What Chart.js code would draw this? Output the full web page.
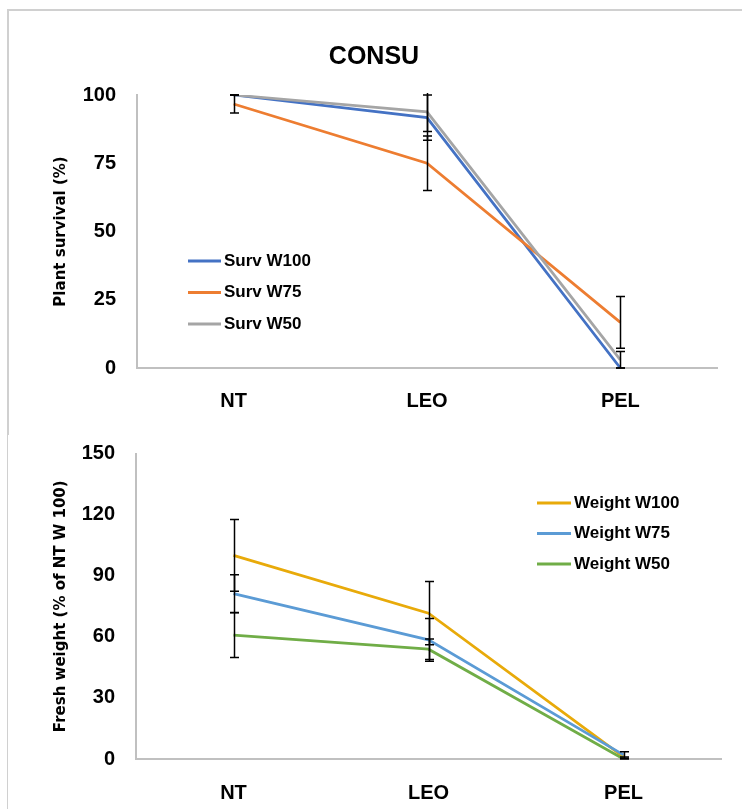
<!DOCTYPE html>
<html><head><meta charset="utf-8">
<script src="https://cdn.jsdelivr.net/npm/chart.js@4"></script>
<style>
html,body{margin:0;padding:0;background:#fff;}
#wrap{position:relative;width:742px;height:809px;overflow:hidden;background:#fff}
canvas{position:absolute;left:0}
#c1{top:0}
#c2{top:440px}
.fr{position:absolute;background:#d0d0d0}
</style></head><body>
<div id="wrap">
<div class="fr" style="left:7px;top:9px;width:735px;height:2px"></div>
<div class="fr" style="left:7px;top:9px;width:2px;height:426px"></div>
<div class="fr" style="left:7px;top:435px;width:1px;height:374px"></div>
<canvas id="c1" width="742" height="440"></canvas>
<canvas id="c2" width="742" height="369"></canvas>
</div>
<script>
const categories = ['NT', 'LEO', 'PEL'];

const survTitle = 'CONSU';
const survAxisTitle = 'Plant survival (%)';
const survLabels = ['Surv W100', 'Surv W75', 'Surv W50'];
const survW100 = [100, 91.7, 0];
const survW75 = [96.7, 75, 16.7];
const survW50 = [100, 93.8, 3];
const survErrW100 = [0, 8.3, 0];
const survErrW75 = [3.3, 10, 9.5];
const survErrW50 = [0, 7.2, 3];
const survTicks = [0, 25, 50, 75, 100];

const weightAxisTitle = 'Fresh weight (% of NT W 100)';
const weightLabels = ['Weight W100', 'Weight W75', 'Weight W50'];
const weightW100 = [100, 71.6, 1];
const weightW75 = [81.2, 58.5, 2];
const weightW50 = [60.8, 53.9, 0];
const weightErrW100 = [17.6, 15.5, 0];
const weightErrW75 = [9.3, 10.5, 1.6];
const weightErrW50 = [11, 5, 0];
const weightTicks = [0, 30, 60, 90, 120, 150];

const TICK_FONT = {family: "'Liberation Sans', Arial, sans-serif", size: 20, weight: 'bold'};
const AXIS_TITLE_FONT = {family: "'DejaVu Sans', Verdana, sans-serif", size: 15, weight: 'bold'};

const errorBarPlugin = {
  id: 'errorBars',
  afterDatasetsDraw(chart, args, opts) {
    const {ctx, chartArea} = chart;
    const xs = chart.scales.x, ys = chart.scales.y;
    ctx.save();
    ctx.beginPath();
    ctx.rect(chartArea.left - 10, chartArea.top - 2, chartArea.width + 20, chartArea.height + 4);
    ctx.clip();
    ctx.strokeStyle = opts.color;
    ctx.lineWidth = opts.width;
    chart.data.datasets.forEach(ds => {
      if (!ds.errors) return;
      ds.data.forEach((v, i) => {
        const e = ds.errors[i];
        const x = Math.round(xs.getPixelForValue(i)) + 0.5;
        const yHi = ys.getPixelForValue(v + e), yLo = ys.getPixelForValue(v - e);
        ctx.beginPath();
        ctx.moveTo(x, yHi); ctx.lineTo(x, yLo);
        ctx.moveTo(x - opts.cap, yHi); ctx.lineTo(x + opts.cap, yHi);
        ctx.moveTo(x - opts.cap, yLo); ctx.lineTo(x + opts.cap, yLo);
        ctx.stroke();
      });
    });
    ctx.restore();
  }
};

const inlineLegend = {
  id: 'inlineLegend',
  afterDraw(chart, args, o) {
    const ctx = chart.ctx;
    ctx.save();
    ctx.font = o.font;
    ctx.textBaseline = 'middle';
    ctx.fillStyle = '#000';
    chart.data.datasets.forEach((ds, i) => {
      const y = o.y + i * o.gap;
      ctx.strokeStyle = ds.borderColor;
      ctx.lineWidth = 3;
      ctx.beginPath(); ctx.moveTo(o.x, y); ctx.lineTo(o.x + o.len, y); ctx.stroke();
      ctx.fillText(ds.label, o.x + o.len + 3, y);
    });
    ctx.restore();
  }
};

function makeDataset(label, data, errors, color, order) {
  return {label, data, errors, borderColor: color, backgroundColor: color,
    borderWidth: 2.75, pointRadius: 0, tension: 0, fill: false, order};
}

function makeChart(canvasId, datasets, tickValues, yMax, axisTitle, cfg) {
  return new Chart(document.getElementById(canvasId), {
    type: 'line',
    data: {labels: categories, datasets},
    plugins: [errorBarPlugin, inlineLegend],
    options: {
      responsive: false,
      animation: false,
      layout: {padding: cfg.padding},
      plugins: {
        legend: {display: false},
        tooltip: {enabled: false},
        title: cfg.title ? {display: true, text: cfg.title, color: '#000',
          font: {family: "'Liberation Sans', Arial, sans-serif", size: 25, weight: 'bold'},
          padding: {top: 42, bottom: 23}} : {display: false},
        errorBars: {color: '#000', width: 1.5, cap: 4.5},
        inlineLegend: cfg.legend
      },
      scales: {
        x: {
          type: 'category', offset: true,
          grid: {display: false, drawTicks: false},
          border: {display: true, color: '#c0c0c0', width: 2},
          ticks: {color: '#000', font: TICK_FONT, padding: cfg.xPad, maxRotation: 0},
          afterFit: s => { s.height = cfg.xHeight; }
        },
        y: {
          min: 0, max: yMax,
          grid: {display: false, drawTicks: false},
          border: {display: true, color: '#c0c0c0', width: 2},
          ticks: {color: '#000', font: TICK_FONT, padding: 21},
          afterBuildTicks: s => { s.ticks = tickValues.map(v => ({value: v})); },
          title: {display: true, text: axisTitle, color: '#000', font: AXIS_TITLE_FONT, padding: {top: cfg.yTitlePad, bottom: 0}},
          afterFit: s => { s.width = cfg.yWidth; s.paddingTop = 12; s.paddingBottom = 12; }
        }
      }
    }
  });
}

makeChart('c1', [
  makeDataset(survLabels[0], survW100, survErrW100, '#4472C4', 2),
  makeDataset(survLabels[1], survW75, survErrW75, '#ED7D31', 1),
  makeDataset(survLabels[2], survW50, survErrW50, '#A5A5A5', 0)
], survTicks, 100, survAxisTitle, {
  title: survTitle,
  padding: {top: 0, right: 25, left: 31, bottom: 0},
  xHeight: 72, yWidth: 106, xPad: 21, yTitlePad: 21,
  legend: {x: 188, y: 261, gap: 31.5, len: 33, font: "bold 17px 'Liberation Sans', Arial, sans-serif"}
});

makeChart('c2', [
  makeDataset(weightLabels[0], weightW100, weightErrW100, '#E8AA0A', 2),
  makeDataset(weightLabels[1], weightW75, weightErrW75, '#5B9BD5', 1),
  makeDataset(weightLabels[2], weightW50, weightErrW50, '#70AD47', 0)
], weightTicks, 150, weightAxisTitle, {
  title: null,
  padding: {top: 13.5, right: 21, left: 0, bottom: 0},
  xHeight: 50, yWidth: 136, xPad: 22, yTitlePad: 52,
  legend: {x: 537, y: 63, gap: 30.5, len: 34, font: "bold 17px 'Liberation Sans', Arial, sans-serif"}
});
</script>
</body></html>
